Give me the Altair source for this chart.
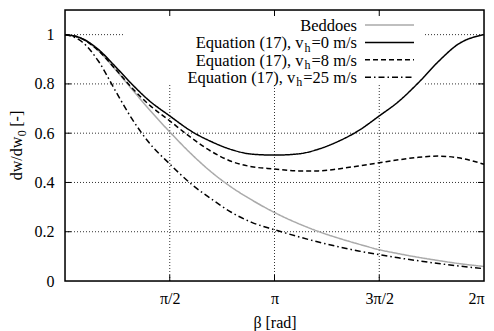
import math
import altair as alt
import pandas as pd

PI = math.pi

# ---- data ----
beta = [0, 0.25, 0.5, 0.75, 1.0, 1.25, PI / 2, 1.9, 2.2, 2.5, 2.8, PI,
        3.5, 3.8, 4.1, 4.4, 3 * PI / 2, 5.0, 5.3, 5.6, 5.9, 2 * PI]

beddoes = [1.000, 0.984, 0.935, 0.860, 0.780, 0.700, 0.605, 0.514, 0.441, 0.380, 0.329, 0.278,
           0.233, 0.201, 0.174, 0.150, 0.127, 0.111, 0.096, 0.083, 0.071, 0.059]
eq_v0 = [1.000, 0.985, 0.940, 0.872, 0.800, 0.735, 0.670, 0.607, 0.565, 0.533, 0.515, 0.511,
         0.516, 0.535, 0.567, 0.610, 0.670, 0.728, 0.805, 0.891, 0.962, 1.000]
eq_v8 = [1.000, 0.984, 0.935, 0.862, 0.785, 0.718, 0.650, 0.580, 0.525, 0.485, 0.464, 0.455,
         0.447, 0.447, 0.455, 0.467, 0.480, 0.492, 0.502, 0.507, 0.500, 0.474]
eq_v25 = [1.000, 0.972, 0.893, 0.775, 0.660, 0.565, 0.475, 0.392, 0.332, 0.278, 0.238, 0.208,
          0.180, 0.158, 0.139, 0.122, 0.107, 0.094, 0.082, 0.071, 0.061, 0.050]

series_names = ["Beddoes", "Equation (17), v_h=0 m/s", "Equation (17), v_h=8 m/s",
                "Equation (17), v_h=25 m/s"]
# key labels split as (main text, subscript, rest)
key_parts = [("Beddoes", "", ""),
             ("Equation (17), v", "h", "=0 m/s"),
             ("Equation (17), v", "h", "=8 m/s"),
             ("Equation (17), v", "h", "=25 m/s")]
series_values = [beddoes, eq_v0, eq_v8, eq_v25]

x_tick_values = [PI / 2, PI, 3 * PI / 2, 2 * PI]
x_tick_labels = ["π/2", "π", "3π/2", "2π"]
y_tick_values = [0, 0.2, 0.4, 0.6, 0.8, 1.0]
x_title = "β [rad]"
y_title_parts = ("dw/dw", "0", "[-]")

# ---- styles ----
colors = ["#aaaaaa", "black", "black", "black"]
dashes = [[1, 0], [1, 0], [5, 3], [6, 3, 1.5, 3]]
FONT = "Liberation Serif"
FS = 16
KFS = 16.5
SUBFS = 12
W, H = 419, 271

# Times / Liberation Serif advance widths (1/1000 em) for layout of the pieces
TW = {"E": 611, "q": 500, "u": 500, "a": 444, "t": 278, "i": 278, "o": 500, "n": 500,
      " ": 250, "(": 333, ")": 333, ",": 250, "v": 500, "h": 500, "=": 564, "m": 778,
      "/": 278, "s": 389, "B": 667, "d": 500, "e": 444, "w": 722, "[": 333, "]": 333,
      "-": 333}


def tw(s, size):
    return sum(TW.get(c, 500) for c in s) * size / 1000.0


rows = []
for name, vals in zip(series_names, series_values):
    for b, v in zip(beta, vals):
        rows.append({"beta": b, "value": v, "series": name})
df = pd.DataFrame(rows)

xscale = alt.Scale(domain=[0, 2 * PI], nice=False, zero=False)
yscale = alt.Scale(domain=[0, 1.1], nice=False)

label_expr = ""
for v, lab in zip(x_tick_values, x_tick_labels):
    label_expr += f"abs(datum.value - {v}) < 0.01 ? '{lab}' : "
label_expr += "''"

# grid
ygrid = alt.Chart(pd.DataFrame({"y": y_tick_values[1:]})).mark_rule(
    color="#333", strokeWidth=1, strokeDash=[1, 2]
).encode(y=alt.Y("y:Q", scale=yscale), x=alt.value(0), x2=alt.value(W))
xgrid = alt.Chart(pd.DataFrame({"x": x_tick_values[:-1]})).mark_rule(
    color="#333", strokeWidth=1, strokeDash=[1, 2]
).encode(x=alt.X("x:Q", scale=xscale), y=alt.value(0), y2=alt.value(H))

# opaque key box (hides grid behind the key, as in gnuplot)
keybox = alt.Chart(pd.DataFrame({"a": [0]})).mark_rect(color="white").encode(
    x=alt.value(60), x2=alt.value(359), y=alt.value(1), y2=alt.value(75)
)

lines = alt.Chart(df).mark_line(strokeWidth=1.5, interpolate="monotone").encode(
    x=alt.X("beta:Q", scale=xscale,
            axis=alt.Axis(values=x_tick_values, labelExpr=label_expr, grid=False,
                          ticks=False, domain=False, labelFont=FONT, labelFontSize=FS,
                          labelColor="black", labelPadding=9, title=x_title,
                          titleFont=FONT, titleFontSize=FS, titleFontWeight="normal",
                          titleColor="black", titlePadding=8)),
    y=alt.Y("value:Q", scale=yscale,
            axis=alt.Axis(values=y_tick_values, format=".1~f", grid=False, ticks=False,
                          domain=False, labelFont=FONT, labelFontSize=FS,
                          labelColor="black", labelPadding=11, title=None)),
    color=alt.Color("series:N", scale=alt.Scale(domain=series_names, range=colors), legend=None),
    strokeDash=alt.StrokeDash("series:N", scale=alt.Scale(domain=series_names, range=dashes),
                              legend=None),
    order=alt.Order("beta:Q"),
)

# inward ticks on all four sides
TL = 6
xt = pd.DataFrame({"x": x_tick_values[:-1]})
yt = pd.DataFrame({"y": y_tick_values[1:-1]})
tick_bottom = alt.Chart(xt).mark_rule(color="black").encode(
    x=alt.X("x:Q", scale=xscale), y=alt.value(H), y2=alt.value(H - TL))
tick_top = alt.Chart(xt).mark_rule(color="black").encode(
    x=alt.X("x:Q", scale=xscale), y=alt.value(0), y2=alt.value(TL))
tick_left = alt.Chart(yt).mark_rule(color="black").encode(
    y=alt.Y("y:Q", scale=yscale), x=alt.value(0), x2=alt.value(TL))
tick_right = alt.Chart(yt).mark_rule(color="black").encode(
    y=alt.Y("y:Q", scale=yscale), x=alt.value(W), x2=alt.value(W - TL))

frame = alt.Chart(pd.DataFrame({"a": [0]})).mark_rect(
    filled=False, stroke="black", strokeWidth=1.5
).encode(x=alt.value(0), x2=alt.value(W), y=alt.value(0), y2=alt.value(H))


def text_piece(txt, x, y, size, align="right", angle=None):
    kw = dict(align=align, baseline="alphabetic", font=FONT, fontSize=size, color="black")
    if angle is not None:
        kw["angle"] = angle
    return alt.Chart(pd.DataFrame({"t": [txt]})).mark_text(**kw).encode(
        text="t:N", x=alt.value(x), y=alt.value(y))


# y-axis title with a real subscript
yt_main, yt_sub, yt_rest = y_title_parts
space = tw(" ", FS)
tot = tw(yt_main, FS) + tw(yt_sub, SUBFS) + space + tw(yt_rest, FS)
ty0 = H / 2 + tot / 2
tx = -43.5
ytitle = [
    text_piece(yt_main, tx, ty0, FS, align="left", angle=270),
    text_piece(yt_sub, tx + 4, ty0 - tw(yt_main, FS) - 0.5, SUBFS, align="left", angle=270),
    text_piece(yt_rest, tx, ty0 - tw(yt_main, FS) - tw(yt_sub, SUBFS) - space, FS,
               align="left", angle=270),
]

# key
key_layers = []
row0, row_step = 15, 17.4
XEND = 292
GAP = 1.0
for i, (main, sub, rest) in enumerate(key_parts):
    ypix = row0 + i * row_step
    base = ypix + 5.7
    xr = XEND
    if rest:
        key_layers.append(text_piece(rest, xr, base, KFS))
        xr -= tw(rest, KFS) + GAP
    if sub:
        key_layers.append(text_piece(sub, xr, base + 3.5, SUBFS))
        xr -= tw(sub, SUBFS) + GAP
    key_layers.append(text_piece(main, xr, base, KFS))
    key_layers.append(
        alt.Chart(pd.DataFrame({"s": [series_names[i]]})).mark_rule(
            color=colors[i], strokeWidth=1.5, strokeDash=dashes[i]
        ).encode(x=alt.value(300), x2=alt.value(349), y=alt.value(ypix))
    )

chart = alt.layer(
    ygrid, xgrid, keybox, lines, tick_bottom, tick_top, tick_left, tick_right, frame,
    *ytitle, *key_layers
).properties(
    width=W, height=H,
    autosize=alt.AutoSizeParams(type="none"),
    padding={"left": 65, "top": 10, "right": 10, "bottom": 50},
).configure_view(stroke=None).configure(background="white")

chart.save("out.html", embed_options={"renderer": "svg", "actions": False})
